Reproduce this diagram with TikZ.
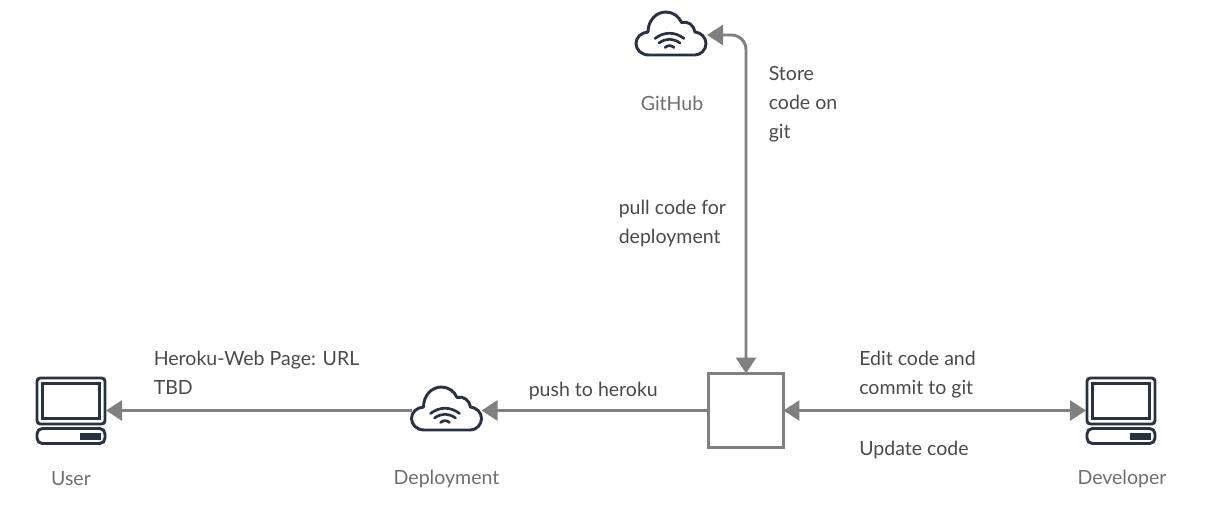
\documentclass[tikz,border=0pt]{standalone}
\usepackage{fontspec}
\setmainfont{Lato}
\usetikzlibrary{arrows.meta}
\definecolor{linegray}{RGB}{128,128,128}
\definecolor{icondark}{RGB}{40,50,66}
\definecolor{labeltext}{RGB}{74,74,74}
\definecolor{captiontext}{RGB}{110,110,110}
\tikzset{
  flow/.style={draw=linegray,line width=2.2pt,rounded corners=11pt,-{Triangle[length=12pt,width=15pt]}},
  flowboth/.style={flow,{Triangle[length=12pt,width=15pt]}-{Triangle[length=12pt,width=15pt]}},
  iconspot/.style={inner sep=0pt,outer sep=0pt,minimum width=52.5pt,minimum height=35pt},
  hub/.style={draw=linegray,line width=2.2pt,inner sep=0pt,outer sep=0pt,minimum width=56.2pt,minimum height=55.5pt},
  label/.style={text=labeltext,font=\fontsize{14.65}{21.8}\selectfont,align=left,anchor=north west,inner sep=0pt},
  caption/.style={text=captiontext,font=\fontsize{14.65}{21.6}\selectfont,inner sep=0pt},
  pics/cloudicon/.style={code={
    \draw[icondark,line width=2.2pt,line join=round] (-22,21.5) .. controls (-30,21.5) and (-35,16) .. (-35,10) .. controls (-35,4) and (-30,-1) .. (-23,-1.5) .. controls (-23,-13) and (-15,-21.5) .. (-5,-21.5) .. controls (2,-21.5) and (8,-17) .. (10.5,-11) .. controls (17,-13) and (23,-8) .. (24,-1.5) .. controls (30,-1) and (35,4) .. (35,10) .. controls (35,16) and (30,21.5) .. (24,21.5) -- cycle;
    \draw[icondark,line width=2pt,line cap=round] (-16,5) .. controls (-7,-2) and (4,-2) .. (13,5);
    \draw[icondark,line width=2pt,line cap=round] (-12,9.5) .. controls (-5,4.5) and (2,4.5) .. (9,9.5);
    \draw[icondark,line width=2pt,line cap=round] (-6,14) .. controls (-3,11.5) and (0,11.5) .. (3,14);
  }},
  pics/laptopicon/.style={code={
    \draw[icondark,line width=2.2pt,rounded corners=2.5pt] (-34,-32) rectangle (34,14);
    \draw[icondark,line width=2.2pt] (-28.5,-26.5) rectangle (28.5,8.5);
    \draw[icondark,line width=2.2pt,rounded corners=4pt] (-34,18.5) rectangle (34,33.5);
    \fill[icondark] (9,23) rectangle (30,29.5);
  }}
}
\begin{document}
\begin{tikzpicture}[x=0.75pt,y=0.75pt,yscale=-1,xscale=1]
  \useasboundingbox (0,0) rectangle (1205,507);
  %Icons
  \node[iconspot] (github) at (672,35) {};
  \pic[yscale=-1] at (671,33.5) {cloudicon};
  \node[iconspot] (deployment) at (446.5,410.5) {};
  \pic[yscale=-1] at (446.5,408.5) {cloudicon};
  \node[iconspot] (user) at (71,410.5) {};
  \pic[yscale=-1] at (71,410) {laptopicon};
  \node[iconspot] (developer) at (1121,410.5) {};
  \pic[yscale=-1] at (1121,410) {laptopicon};
  %Center box
  \node[hub] (server) at (746,410.5) {};
  %Captions
  \node[caption] (githubname) at (672,103) {GitHub};
  \node[caption] (deploymentname) at (446.5,479) {Deployment};
  \node[caption] (username) at (71,479) {User};
  \node[caption] (developername) at (1122,479) {Developer};
  %Connectors
  \draw[flowboth] (server.north) -- (server.north |- github.east) -- (github.east);
  \draw[flow] (server.west) -- (deployment.east);
  \draw[flow] (deployment.west) -- (user.east);
  \draw[flowboth] (server.east) -- (developer.west);
  %Labels
  \node[label] (storelabel) at (768.5,66) {Store\\code on\\git};
  \node[label] (pulllabel) at (618.5,200) {pull code for\\deployment};
  \node[label] (pushlabel) at (528.5,382) {push to heroku};
  \node[label] (weblabel) at (153.5,351) {Heroku-Web Page: URL\\TBD};
  \node[label] (editlabel) at (859,351) {Edit code and\\commit to git};
  \node[label] (updatelabel) at (859,441) {Update code};
\end{tikzpicture}
\end{document}
